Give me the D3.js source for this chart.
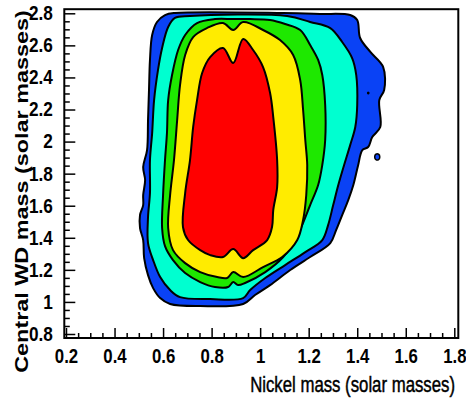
<!DOCTYPE html>
<html>
<head>
<meta charset="utf-8">
<script src="https://cdn.jsdelivr.net/npm/d3@7"></script>
<style>
  body { margin: 0; background: #fff; }
  svg { display: block; }
</style>
</head>
<body>
<svg></svg>
<script>
// contour boundaries, [nickel mass, central WD mass]
const levelBlue = [
  [0.608,2.789],[0.649,2.802],[1.095,2.802],[1.247,2.796],[1.371,2.789],[1.400,2.758],
  [1.412,2.646],[1.454,2.559],[1.507,2.465],[1.511,2.322],[1.491,2.259],[1.495,2.091],
  [1.462,2.028],[1.445,1.966],[1.421,1.947],[1.404,1.854],[1.384,1.729],[1.363,1.635],
  [1.338,1.542],[1.313,1.448],[1.289,1.367],[1.206,1.280],[1.124,1.199],[1.041,1.105],
  [0.979,1.043],[0.930,0.987],[0.753,0.974],[0.629,0.987],[0.588,1.024],[0.559,1.086],
  [0.538,1.167],[0.522,1.273],[0.518,1.386],[0.505,1.461],[0.505,1.542],[0.518,1.604],
  [0.518,1.667],[0.526,1.760],[0.518,1.841],[0.534,1.947],[0.538,2.134],[0.542,2.322],
  [0.546,2.509],[0.555,2.665],[0.575,2.746]
];
const levelCyan = [
  [0.596,2.584],[0.621,2.715],[0.649,2.771],[0.711,2.783],[1.111,2.783],[1.206,2.746],
  [1.289,2.708],[1.338,2.621],[1.379,2.521],[1.396,2.415],[1.400,2.228],[1.392,2.091],
  [1.371,1.978],[1.346,1.854],[1.322,1.729],[1.301,1.604],[1.280,1.479],[1.256,1.386],
  [1.186,1.311],[1.103,1.230],[1.021,1.149],[0.959,1.074],[0.930,1.024],[0.794,1.018],
  [0.670,1.030],[0.629,1.074],[0.588,1.155],[0.559,1.261],[0.538,1.367],[0.538,1.529],
  [0.546,1.679],[0.546,1.885],[0.555,2.053],[0.563,2.259],[0.579,2.446]
];
const levelGreen = [
  [0.691,2.665],[0.740,2.739],[0.814,2.764],[0.889,2.764],[0.959,2.764],[1.041,2.758],
  [1.103,2.733],[1.165,2.696],[1.206,2.602],[1.239,2.509],[1.256,2.415],[1.268,2.228],
  [1.268,2.010],[1.256,1.854],[1.239,1.729],[1.206,1.604],[1.173,1.479],[1.144,1.386],
  [1.095,1.280],[1.021,1.186],[0.938,1.118],[0.909,1.105],[0.889,1.124],[0.868,1.093],
  [0.814,1.093],[0.753,1.124],[0.691,1.180],[0.641,1.261],[0.608,1.348],[0.596,1.461],
  [0.600,1.667],[0.608,1.885],[0.616,2.053],[0.621,2.259],[0.637,2.415],[0.662,2.571]
];
const levelYellow = [
  [0.691,2.540],[0.724,2.652],[0.781,2.708],[0.847,2.739],[0.889,2.696],[0.930,2.746],
  [1.012,2.696],[1.082,2.633],[1.136,2.540],[1.165,2.384],[1.177,2.197],[1.186,2.010],
  [1.194,1.854],[1.190,1.667],[1.177,1.511],[1.153,1.386],[1.091,1.280],[1.012,1.217],
  [0.930,1.155],[0.889,1.186],[0.864,1.149],[0.823,1.155],[0.753,1.186],[0.691,1.242],
  [0.641,1.323],[0.621,1.461],[0.629,1.667],[0.645,1.885],[0.658,2.134],[0.670,2.353]
];
const levelRed = [
  [0.711,1.885],[0.724,2.091],[0.740,2.259],[0.761,2.428],[0.794,2.527],[0.847,2.584],
  [0.889,2.490],[0.930,2.640],[0.971,2.571],[1.012,2.465],[1.041,2.303],[1.054,2.153],
  [1.070,1.885],[1.070,1.716],[1.054,1.573],[1.049,1.467],[1.029,1.386],[0.971,1.323],
  [0.930,1.273],[0.889,1.330],[0.847,1.280],[0.794,1.292],[0.753,1.323],[0.703,1.386],
  [0.682,1.467],[0.691,1.679]
];
// little island and speck on the right
const islandBlue = [[1.472,1.904],[1.477,1.921],[1.488,1.921],[1.493,1.904],[1.488,1.888],[1.477,1.888]];
const speckBlue = [[1.443,2.303],[1.445,2.308],[1.448,2.303],[1.445,2.298]];

const levels = [levelBlue, levelCyan, levelGreen, levelYellow, levelRed];
const levelColors = ["#0a42f5", "#00ffd0", "#1ee800", "#ffec00", "#ff0000"];

const xMajor = [0.2, 0.4, 0.6, 0.8, 1.0, 1.2, 1.4, 1.6, 1.8];
const yMajor = [0.8, 1.0, 1.2, 1.4, 1.6, 1.8, 2.0, 2.2, 2.4, 2.6, 2.8];
const xTitle = "Nickel mass (solar masses)";
const yTitle = "Central WD mass (solar masses)";

const w = 466, h = 398;
const frame = { left: 64.3, right: 458.3, top: 9.2, bottom: 338 };

const svg = d3.select("svg").attr("width", w).attr("height", h);

const x = d3.scaleLinear().domain([0.193, 1.8165]).range([frame.left, frame.right]);
const y = d3.scaleLinear().domain([0.775, 2.8256]).range([frame.bottom, frame.top]);

// minor ticks every 0.05
const xMinor = d3.range(0.2, 1.8001, 0.05).filter(v => Math.abs(v * 5 - Math.round(v * 5)) > 1e-6);
const yMinor = d3.range(0.8, 2.8001, 0.05).filter(v => Math.abs(v * 5 - Math.round(v * 5)) > 1e-6);

const line = d3.line()
  .x(d => x(d[0]))
  .y(d => y(d[1]))
  .curve(d3.curveCatmullRomClosed.alpha(0.5));

const g = svg.append("g");
levels.forEach((pts, i) => {
  g.append("path")
    .attr("d", line(pts))
    .attr("fill", levelColors[i])
    .attr("stroke", "#000")
    .attr("stroke-width", 2)
    .attr("stroke-linejoin", "round");
});
[islandBlue, speckBlue].forEach(pts => {
  g.append("path")
    .attr("d", line(pts))
    .attr("fill", levelColors[0])
    .attr("stroke", "#000")
    .attr("stroke-width", 1.5);
});

// frame
svg.append("rect")
  .attr("x", frame.left).attr("y", frame.top)
  .attr("width", frame.right - frame.left)
  .attr("height", frame.bottom - frame.top)
  .attr("fill", "none").attr("stroke", "#000").attr("stroke-width", 2);

// axes, ticks inside the frame
const tickFont = "'Liberation Sans', Arial, sans-serif";

const xAxisMinor = svg.append("g")
  .attr("transform", `translate(0,${frame.bottom})`)
  .call(d3.axisBottom(x).tickValues(xMinor).tickSize(-5).tickFormat(""));
const xAxis = svg.append("g")
  .attr("transform", `translate(0,${frame.bottom})`)
  .call(d3.axisBottom(x).tickValues(xMajor).tickSize(-10).tickPadding(11).tickFormat(d3.format("~g")));

const yAxisMinor = svg.append("g")
  .attr("transform", `translate(${frame.left},0)`)
  .call(d3.axisLeft(y).tickValues(yMinor).tickSize(-5.5).tickFormat(""));
const yAxis = svg.append("g")
  .attr("transform", `translate(${frame.left},0)`)
  .call(d3.axisLeft(y).tickValues(yMajor).tickSize(-11).tickFormat(d3.format("~g")));

[xAxisMinor, xAxis, yAxisMinor, yAxis].forEach(a => {
  a.select(".domain").remove();
  a.selectAll(".tick line").attr("stroke", "#000").attr("stroke-width", 1.5);
});

xAxis.selectAll("text")
  .attr("font-family", tickFont).attr("font-size", 20).attr("font-weight", "bold")
  .attr("fill", "#000")
  .attr("transform", "scale(0.84,1)");

yAxis.selectAll("text")
  .attr("font-family", tickFont).attr("font-size", 20).attr("font-weight", "bold")
  .attr("fill", "#000")
  .attr("x", -11.5 / 0.86)
  .attr("transform", "scale(0.86,1)");

svg.append("text")
  .attr("transform", "translate(455,392) scale(0.78,1)")
  .attr("text-anchor", "end")
  .attr("font-family", tickFont).attr("font-size", 21.5)
  .attr("stroke", "#000").attr("stroke-width", 0.45)
  .text(xTitle);

svg.append("text")
  .attr("transform", "translate(27.5,191.5) rotate(-90) scale(1,0.8)")
  .attr("text-anchor", "middle")
  .attr("font-family", tickFont).attr("font-size", 23.4).attr("font-weight", "bold")
  .text(yTitle);
</script>
</body>
</html>
